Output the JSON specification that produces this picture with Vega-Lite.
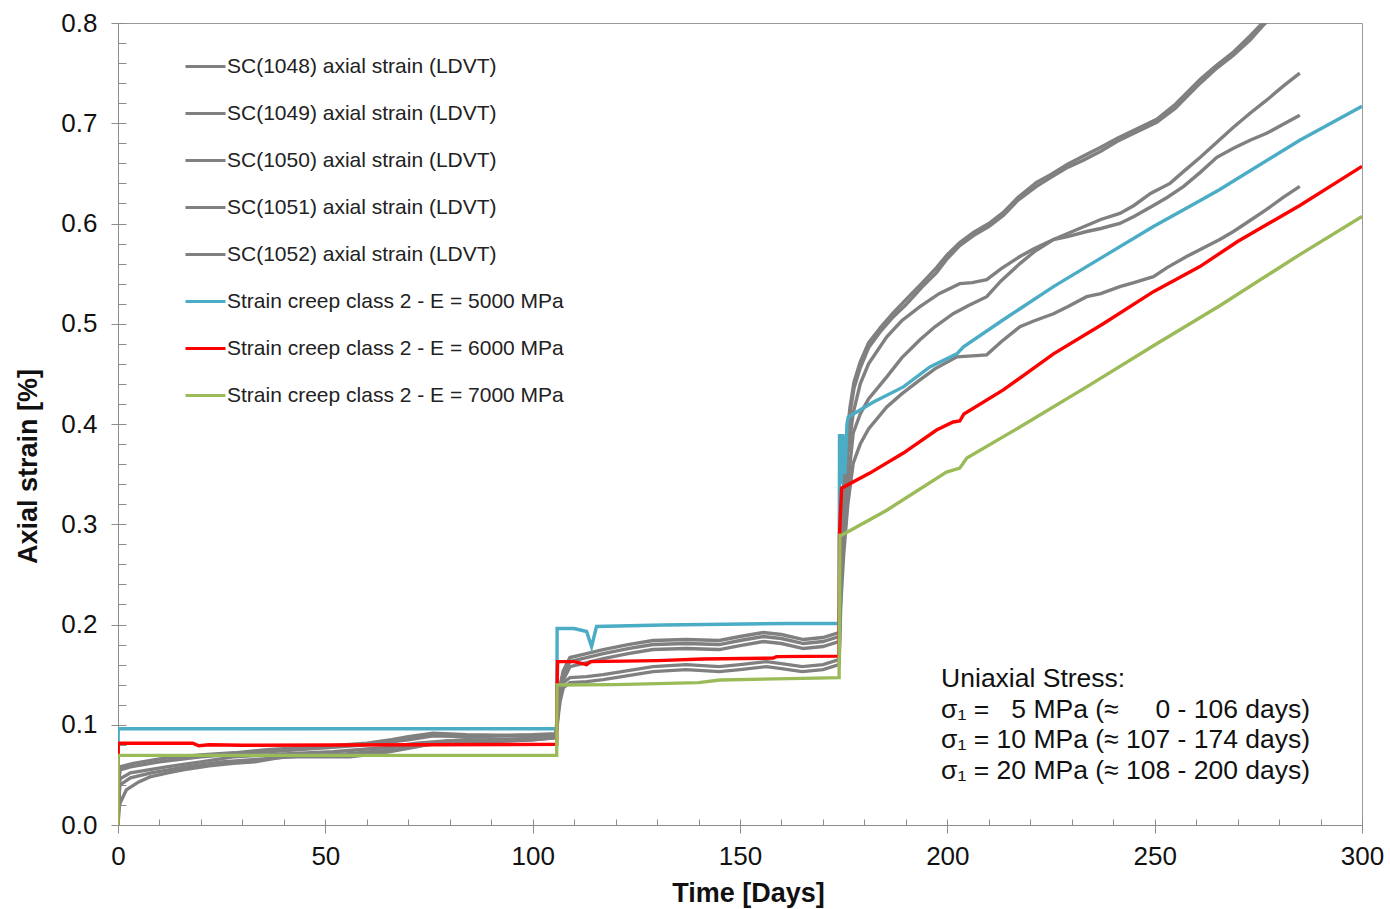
{
  "$schema": "https://vega.github.io/schema/vega-lite/v6.json",
  "width": 1244,
  "height": 802,
  "autosize": {"type": "none"},
  "padding": {"left": 118, "top": 23, "right": 28, "bottom": 84},
  "config": {
    "view": {"stroke": "#9a9a9a", "strokeWidth": 1},
    "font": "Liberation Sans",
    "axis": {"labelFont": "Liberation Sans", "titleFont": "Liberation Sans", "domainColor": "#8c8c8c", "tickColor": "#8c8c8c", "grid": false, "labelColor": "#111111", "titleColor": "#111111", "labelFlush": false, "labelOverlap": false}
  },
  "datasets": {
    "curves": [
      {"series":"SC(1048) axial strain (LDVT)","day":0,"strain":0},{"series":"SC(1048) axial strain (LDVT)","day":0.3,"strain":0.05},{"series":"SC(1048) axial strain (LDVT)","day":0.5,"strain":0.058},{"series":"SC(1048) axial strain (LDVT)","day":3.7,"strain":0.0615},{"series":"SC(1048) axial strain (LDVT)","day":10,"strain":0.066},{"series":"SC(1048) axial strain (LDVT)","day":19.8,"strain":0.07},{"series":"SC(1048) axial strain (LDVT)","day":28,"strain":0.072},{"series":"SC(1048) axial strain (LDVT)","day":35.9,"strain":0.075},{"series":"SC(1048) axial strain (LDVT)","day":48,"strain":0.078},{"series":"SC(1048) axial strain (LDVT)","day":60,"strain":0.0815},{"series":"SC(1048) axial strain (LDVT)","day":66,"strain":0.085},{"series":"SC(1048) axial strain (LDVT)","day":70,"strain":0.088},{"series":"SC(1048) axial strain (LDVT)","day":76,"strain":0.0915},{"series":"SC(1048) axial strain (LDVT)","day":84,"strain":0.09},{"series":"SC(1048) axial strain (LDVT)","day":92,"strain":0.0895},{"series":"SC(1048) axial strain (LDVT)","day":100,"strain":0.09},{"series":"SC(1048) axial strain (LDVT)","day":105.6,"strain":0.091},
      {"series":"SC(1048) axial strain (LDVT)","day":106.2,"strain":0.124},{"series":"SC(1048) axial strain (LDVT)","day":106.6,"strain":0.139},{"series":"SC(1048) axial strain (LDVT)","day":107.4,"strain":0.154},{"series":"SC(1048) axial strain (LDVT)","day":109,"strain":0.167},{"series":"SC(1048) axial strain (LDVT)","day":113,"strain":0.171},{"series":"SC(1048) axial strain (LDVT)","day":117,"strain":0.175},{"series":"SC(1048) axial strain (LDVT)","day":123,"strain":0.18},{"series":"SC(1048) axial strain (LDVT)","day":129,"strain":0.184},{"series":"SC(1048) axial strain (LDVT)","day":137,"strain":0.185},{"series":"SC(1048) axial strain (LDVT)","day":145,"strain":0.184},{"series":"SC(1048) axial strain (LDVT)","day":150,"strain":0.188},{"series":"SC(1048) axial strain (LDVT)","day":155.6,"strain":0.192},{"series":"SC(1048) axial strain (LDVT)","day":160,"strain":0.19},{"series":"SC(1048) axial strain (LDVT)","day":165.3,"strain":0.185},{"series":"SC(1048) axial strain (LDVT)","day":170,"strain":0.187},{"series":"SC(1048) axial strain (LDVT)","day":173.9,"strain":0.192},
      {"series":"SC(1048) axial strain (LDVT)","day":174.3,"strain":0.27},{"series":"SC(1048) axial strain (LDVT)","day":175,"strain":0.34},{"series":"SC(1048) axial strain (LDVT)","day":176,"strain":0.395},{"series":"SC(1048) axial strain (LDVT)","day":176.5,"strain":0.416},{"series":"SC(1048) axial strain (LDVT)","day":177.5,"strain":0.442},{"series":"SC(1048) axial strain (LDVT)","day":179,"strain":0.462},{"series":"SC(1048) axial strain (LDVT)","day":181,"strain":0.481},{"series":"SC(1048) axial strain (LDVT)","day":184,"strain":0.497},{"series":"SC(1048) axial strain (LDVT)","day":187,"strain":0.511},{"series":"SC(1048) axial strain (LDVT)","day":190,"strain":0.524},{"series":"SC(1048) axial strain (LDVT)","day":194,"strain":0.541},{"series":"SC(1048) axial strain (LDVT)","day":197.4,"strain":0.556},{"series":"SC(1048) axial strain (LDVT)","day":200,"strain":0.569},{"series":"SC(1048) axial strain (LDVT)","day":203,"strain":0.581},{"series":"SC(1048) axial strain (LDVT)","day":206.3,"strain":0.591},{"series":"SC(1048) axial strain (LDVT)","day":210,"strain":0.6},{"series":"SC(1048) axial strain (LDVT)","day":213.5,"strain":0.611},{"series":"SC(1048) axial strain (LDVT)","day":217,"strain":0.626},{"series":"SC(1048) axial strain (LDVT)","day":221.5,"strain":0.641},{"series":"SC(1048) axial strain (LDVT)","day":225,"strain":0.649},{"series":"SC(1048) axial strain (LDVT)","day":229,"strain":0.659},{"series":"SC(1048) axial strain (LDVT)","day":232.7,"strain":0.667},{"series":"SC(1048) axial strain (LDVT)","day":237,"strain":0.676},{"series":"SC(1048) axial strain (LDVT)","day":241,"strain":0.685},{"series":"SC(1048) axial strain (LDVT)","day":245,"strain":0.693},{"series":"SC(1048) axial strain (LDVT)","day":250.5,"strain":0.704},{"series":"SC(1048) axial strain (LDVT)","day":255,"strain":0.719},{"series":"SC(1048) axial strain (LDVT)","day":261,"strain":0.744},{"series":"SC(1048) axial strain (LDVT)","day":265,"strain":0.758},{"series":"SC(1048) axial strain (LDVT)","day":269,"strain":0.771},{"series":"SC(1048) axial strain (LDVT)","day":273,"strain":0.787},{"series":"SC(1048) axial strain (LDVT)","day":276,"strain":0.8},{"series":"SC(1048) axial strain (LDVT)","day":280,"strain":0.816},{"series":"SC(1048) axial strain (LDVT)","day":285,"strain":0.836},

      {"series":"SC(1049) axial strain (LDVT)","day":0,"strain":0},{"series":"SC(1049) axial strain (LDVT)","day":0.3,"strain":0.048},{"series":"SC(1049) axial strain (LDVT)","day":0.5,"strain":0.055},{"series":"SC(1049) axial strain (LDVT)","day":3,"strain":0.058},{"series":"SC(1049) axial strain (LDVT)","day":10,"strain":0.063},{"series":"SC(1049) axial strain (LDVT)","day":20,"strain":0.068},{"series":"SC(1049) axial strain (LDVT)","day":36,"strain":0.073},{"series":"SC(1049) axial strain (LDVT)","day":50,"strain":0.077},{"series":"SC(1049) axial strain (LDVT)","day":60,"strain":0.08},{"series":"SC(1049) axial strain (LDVT)","day":70,"strain":0.085},{"series":"SC(1049) axial strain (LDVT)","day":76,"strain":0.089},{"series":"SC(1049) axial strain (LDVT)","day":85,"strain":0.088},{"series":"SC(1049) axial strain (LDVT)","day":95,"strain":0.089},{"series":"SC(1049) axial strain (LDVT)","day":105.6,"strain":0.09},
      {"series":"SC(1049) axial strain (LDVT)","day":106.2,"strain":0.12},{"series":"SC(1049) axial strain (LDVT)","day":106.6,"strain":0.135},{"series":"SC(1049) axial strain (LDVT)","day":107.4,"strain":0.15},{"series":"SC(1049) axial strain (LDVT)","day":109,"strain":0.163},{"series":"SC(1049) axial strain (LDVT)","day":113,"strain":0.167},{"series":"SC(1049) axial strain (LDVT)","day":117,"strain":0.171},{"series":"SC(1049) axial strain (LDVT)","day":123,"strain":0.176},{"series":"SC(1049) axial strain (LDVT)","day":129,"strain":0.18},{"series":"SC(1049) axial strain (LDVT)","day":137,"strain":0.181},{"series":"SC(1049) axial strain (LDVT)","day":145,"strain":0.18},{"series":"SC(1049) axial strain (LDVT)","day":150,"strain":0.184},{"series":"SC(1049) axial strain (LDVT)","day":155.6,"strain":0.188},{"series":"SC(1049) axial strain (LDVT)","day":160,"strain":0.186},{"series":"SC(1049) axial strain (LDVT)","day":165.3,"strain":0.181},{"series":"SC(1049) axial strain (LDVT)","day":170,"strain":0.183},{"series":"SC(1049) axial strain (LDVT)","day":173.9,"strain":0.188},
      {"series":"SC(1049) axial strain (LDVT)","day":174.3,"strain":0.26},{"series":"SC(1049) axial strain (LDVT)","day":175,"strain":0.33},{"series":"SC(1049) axial strain (LDVT)","day":176,"strain":0.385},{"series":"SC(1049) axial strain (LDVT)","day":176.5,"strain":0.41},{"series":"SC(1049) axial strain (LDVT)","day":177.5,"strain":0.436},{"series":"SC(1049) axial strain (LDVT)","day":179,"strain":0.456},{"series":"SC(1049) axial strain (LDVT)","day":181,"strain":0.476},{"series":"SC(1049) axial strain (LDVT)","day":184,"strain":0.493},{"series":"SC(1049) axial strain (LDVT)","day":187,"strain":0.507},{"series":"SC(1049) axial strain (LDVT)","day":190,"strain":0.519},{"series":"SC(1049) axial strain (LDVT)","day":194,"strain":0.537},{"series":"SC(1049) axial strain (LDVT)","day":197.4,"strain":0.551},{"series":"SC(1049) axial strain (LDVT)","day":200,"strain":0.565},{"series":"SC(1049) axial strain (LDVT)","day":203,"strain":0.578},{"series":"SC(1049) axial strain (LDVT)","day":206.3,"strain":0.588},{"series":"SC(1049) axial strain (LDVT)","day":210,"strain":0.597},{"series":"SC(1049) axial strain (LDVT)","day":213.5,"strain":0.608},{"series":"SC(1049) axial strain (LDVT)","day":217,"strain":0.623},{"series":"SC(1049) axial strain (LDVT)","day":221.5,"strain":0.637},{"series":"SC(1049) axial strain (LDVT)","day":225,"strain":0.646},{"series":"SC(1049) axial strain (LDVT)","day":229,"strain":0.656},{"series":"SC(1049) axial strain (LDVT)","day":232.7,"strain":0.663},{"series":"SC(1049) axial strain (LDVT)","day":237,"strain":0.672},{"series":"SC(1049) axial strain (LDVT)","day":241,"strain":0.682},{"series":"SC(1049) axial strain (LDVT)","day":245,"strain":0.69},{"series":"SC(1049) axial strain (LDVT)","day":250.5,"strain":0.701},{"series":"SC(1049) axial strain (LDVT)","day":255,"strain":0.715},{"series":"SC(1049) axial strain (LDVT)","day":261,"strain":0.74},{"series":"SC(1049) axial strain (LDVT)","day":265,"strain":0.755},{"series":"SC(1049) axial strain (LDVT)","day":269,"strain":0.768},{"series":"SC(1049) axial strain (LDVT)","day":273,"strain":0.783},{"series":"SC(1049) axial strain (LDVT)","day":276,"strain":0.797},{"series":"SC(1049) axial strain (LDVT)","day":280,"strain":0.813},{"series":"SC(1049) axial strain (LDVT)","day":285,"strain":0.832},

      {"series":"SC(1050) axial strain (LDVT)","day":0,"strain":0},{"series":"SC(1050) axial strain (LDVT)","day":0.3,"strain":0.04},{"series":"SC(1050) axial strain (LDVT)","day":0.5,"strain":0.046},{"series":"SC(1050) axial strain (LDVT)","day":3,"strain":0.052},{"series":"SC(1050) axial strain (LDVT)","day":11.7,"strain":0.058},{"series":"SC(1050) axial strain (LDVT)","day":20,"strain":0.063},{"series":"SC(1050) axial strain (LDVT)","day":27.8,"strain":0.068},{"series":"SC(1050) axial strain (LDVT)","day":40,"strain":0.071},{"series":"SC(1050) axial strain (LDVT)","day":51.9,"strain":0.073},{"series":"SC(1050) axial strain (LDVT)","day":64,"strain":0.077},{"series":"SC(1050) axial strain (LDVT)","day":72,"strain":0.0815},{"series":"SC(1050) axial strain (LDVT)","day":80,"strain":0.084},{"series":"SC(1050) axial strain (LDVT)","day":90,"strain":0.085},{"series":"SC(1050) axial strain (LDVT)","day":100.2,"strain":0.0865},{"series":"SC(1050) axial strain (LDVT)","day":105.6,"strain":0.088},
      {"series":"SC(1050) axial strain (LDVT)","day":106.2,"strain":0.115},{"series":"SC(1050) axial strain (LDVT)","day":106.6,"strain":0.13},{"series":"SC(1050) axial strain (LDVT)","day":107.4,"strain":0.145},{"series":"SC(1050) axial strain (LDVT)","day":109,"strain":0.158},{"series":"SC(1050) axial strain (LDVT)","day":113,"strain":0.162},{"series":"SC(1050) axial strain (LDVT)","day":117,"strain":0.166},{"series":"SC(1050) axial strain (LDVT)","day":123,"strain":0.171},{"series":"SC(1050) axial strain (LDVT)","day":129,"strain":0.175},{"series":"SC(1050) axial strain (LDVT)","day":137,"strain":0.176},{"series":"SC(1050) axial strain (LDVT)","day":145,"strain":0.175},{"series":"SC(1050) axial strain (LDVT)","day":150,"strain":0.179},{"series":"SC(1050) axial strain (LDVT)","day":155.6,"strain":0.183},{"series":"SC(1050) axial strain (LDVT)","day":160,"strain":0.181},{"series":"SC(1050) axial strain (LDVT)","day":165.3,"strain":0.176},{"series":"SC(1050) axial strain (LDVT)","day":170,"strain":0.178},{"series":"SC(1050) axial strain (LDVT)","day":173.9,"strain":0.183},
      {"series":"SC(1050) axial strain (LDVT)","day":174.3,"strain":0.25},{"series":"SC(1050) axial strain (LDVT)","day":175,"strain":0.31},{"series":"SC(1050) axial strain (LDVT)","day":176,"strain":0.37},{"series":"SC(1050) axial strain (LDVT)","day":177.3,"strain":0.411},{"series":"SC(1050) axial strain (LDVT)","day":179,"strain":0.44},{"series":"SC(1050) axial strain (LDVT)","day":181,"strain":0.46},{"series":"SC(1050) axial strain (LDVT)","day":185.4,"strain":0.487},{"series":"SC(1050) axial strain (LDVT)","day":189,"strain":0.503},{"series":"SC(1050) axial strain (LDVT)","day":193.4,"strain":0.517},{"series":"SC(1050) axial strain (LDVT)","day":198,"strain":0.53},{"series":"SC(1050) axial strain (LDVT)","day":203,"strain":0.54},{"series":"SC(1050) axial strain (LDVT)","day":206,"strain":0.541},{"series":"SC(1050) axial strain (LDVT)","day":209.5,"strain":0.544},{"series":"SC(1050) axial strain (LDVT)","day":213,"strain":0.555},{"series":"SC(1050) axial strain (LDVT)","day":217.5,"strain":0.567},{"series":"SC(1050) axial strain (LDVT)","day":221,"strain":0.575},{"series":"SC(1050) axial strain (LDVT)","day":225.6,"strain":0.584},{"series":"SC(1050) axial strain (LDVT)","day":229,"strain":0.59},{"series":"SC(1050) axial strain (LDVT)","day":233.6,"strain":0.598},{"series":"SC(1050) axial strain (LDVT)","day":237,"strain":0.604},{"series":"SC(1050) axial strain (LDVT)","day":241.6,"strain":0.61},{"series":"SC(1050) axial strain (LDVT)","day":245,"strain":0.618},{"series":"SC(1050) axial strain (LDVT)","day":249,"strain":0.63},{"series":"SC(1050) axial strain (LDVT)","day":253.7,"strain":0.64},{"series":"SC(1050) axial strain (LDVT)","day":257,"strain":0.652},{"series":"SC(1050) axial strain (LDVT)","day":261,"strain":0.666},{"series":"SC(1050) axial strain (LDVT)","day":265,"strain":0.681},{"series":"SC(1050) axial strain (LDVT)","day":269,"strain":0.696},{"series":"SC(1050) axial strain (LDVT)","day":273,"strain":0.71},{"series":"SC(1050) axial strain (LDVT)","day":277,"strain":0.723},{"series":"SC(1050) axial strain (LDVT)","day":281,"strain":0.737},{"series":"SC(1050) axial strain (LDVT)","day":285,"strain":0.75},

      {"series":"SC(1051) axial strain (LDVT)","day":0,"strain":0},{"series":"SC(1051) axial strain (LDVT)","day":0.3,"strain":0.032},{"series":"SC(1051) axial strain (LDVT)","day":0.5,"strain":0.04},{"series":"SC(1051) axial strain (LDVT)","day":3,"strain":0.047},{"series":"SC(1051) axial strain (LDVT)","day":8,"strain":0.052},{"series":"SC(1051) axial strain (LDVT)","day":15,"strain":0.057},{"series":"SC(1051) axial strain (LDVT)","day":25,"strain":0.063},{"series":"SC(1051) axial strain (LDVT)","day":35,"strain":0.066},{"series":"SC(1051) axial strain (LDVT)","day":45,"strain":0.069},{"series":"SC(1051) axial strain (LDVT)","day":55,"strain":0.071},{"series":"SC(1051) axial strain (LDVT)","day":64,"strain":0.074},{"series":"SC(1051) axial strain (LDVT)","day":72,"strain":0.079},{"series":"SC(1051) axial strain (LDVT)","day":80,"strain":0.082},{"series":"SC(1051) axial strain (LDVT)","day":90,"strain":0.083},{"series":"SC(1051) axial strain (LDVT)","day":100,"strain":0.085},{"series":"SC(1051) axial strain (LDVT)","day":105.6,"strain":0.087},
      {"series":"SC(1051) axial strain (LDVT)","day":106.2,"strain":0.117},{"series":"SC(1051) axial strain (LDVT)","day":106.6,"strain":0.13},{"series":"SC(1051) axial strain (LDVT)","day":107.4,"strain":0.142},{"series":"SC(1051) axial strain (LDVT)","day":109,"strain":0.147},{"series":"SC(1051) axial strain (LDVT)","day":113,"strain":0.148},{"series":"SC(1051) axial strain (LDVT)","day":117,"strain":0.15},{"series":"SC(1051) axial strain (LDVT)","day":123,"strain":0.154},{"series":"SC(1051) axial strain (LDVT)","day":129,"strain":0.158},{"series":"SC(1051) axial strain (LDVT)","day":137,"strain":0.16},{"series":"SC(1051) axial strain (LDVT)","day":145,"strain":0.158},{"series":"SC(1051) axial strain (LDVT)","day":150,"strain":0.16},{"series":"SC(1051) axial strain (LDVT)","day":156.4,"strain":0.163},{"series":"SC(1051) axial strain (LDVT)","day":160,"strain":0.161},{"series":"SC(1051) axial strain (LDVT)","day":165,"strain":0.158},{"series":"SC(1051) axial strain (LDVT)","day":170,"strain":0.16},{"series":"SC(1051) axial strain (LDVT)","day":173.9,"strain":0.165},
      {"series":"SC(1051) axial strain (LDVT)","day":174.3,"strain":0.23},{"series":"SC(1051) axial strain (LDVT)","day":175,"strain":0.29},{"series":"SC(1051) axial strain (LDVT)","day":176,"strain":0.34},{"series":"SC(1051) axial strain (LDVT)","day":177.3,"strain":0.391},{"series":"SC(1051) axial strain (LDVT)","day":179,"strain":0.41},{"series":"SC(1051) axial strain (LDVT)","day":181,"strain":0.425},{"series":"SC(1051) axial strain (LDVT)","day":185.4,"strain":0.447},{"series":"SC(1051) axial strain (LDVT)","day":189,"strain":0.466},{"series":"SC(1051) axial strain (LDVT)","day":193.4,"strain":0.484},{"series":"SC(1051) axial strain (LDVT)","day":197,"strain":0.497},{"series":"SC(1051) axial strain (LDVT)","day":201.4,"strain":0.51},{"series":"SC(1051) axial strain (LDVT)","day":205,"strain":0.518},{"series":"SC(1051) axial strain (LDVT)","day":209.5,"strain":0.527},{"series":"SC(1051) axial strain (LDVT)","day":213,"strain":0.543},{"series":"SC(1051) axial strain (LDVT)","day":217.5,"strain":0.56},{"series":"SC(1051) axial strain (LDVT)","day":221,"strain":0.572},{"series":"SC(1051) axial strain (LDVT)","day":225.6,"strain":0.584},{"series":"SC(1051) axial strain (LDVT)","day":229,"strain":0.587},{"series":"SC(1051) axial strain (LDVT)","day":233.6,"strain":0.592},{"series":"SC(1051) axial strain (LDVT)","day":237,"strain":0.595},{"series":"SC(1051) axial strain (LDVT)","day":241.6,"strain":0.6},{"series":"SC(1051) axial strain (LDVT)","day":245,"strain":0.607},{"series":"SC(1051) axial strain (LDVT)","day":249.7,"strain":0.618},{"series":"SC(1051) axial strain (LDVT)","day":253,"strain":0.626},{"series":"SC(1051) axial strain (LDVT)","day":257,"strain":0.637},{"series":"SC(1051) axial strain (LDVT)","day":261,"strain":0.651},{"series":"SC(1051) axial strain (LDVT)","day":265,"strain":0.666},{"series":"SC(1051) axial strain (LDVT)","day":269,"strain":0.675},{"series":"SC(1051) axial strain (LDVT)","day":273,"strain":0.683},{"series":"SC(1051) axial strain (LDVT)","day":277,"strain":0.69},{"series":"SC(1051) axial strain (LDVT)","day":281,"strain":0.699},{"series":"SC(1051) axial strain (LDVT)","day":285,"strain":0.708},

      {"series":"SC(1052) axial strain (LDVT)","day":0,"strain":0},{"series":"SC(1052) axial strain (LDVT)","day":0.3,"strain":0.018},{"series":"SC(1052) axial strain (LDVT)","day":0.5,"strain":0.022},{"series":"SC(1052) axial strain (LDVT)","day":2,"strain":0.035},{"series":"SC(1052) axial strain (LDVT)","day":5,"strain":0.043},{"series":"SC(1052) axial strain (LDVT)","day":7.7,"strain":0.048},{"series":"SC(1052) axial strain (LDVT)","day":12,"strain":0.052},{"series":"SC(1052) axial strain (LDVT)","day":15.7,"strain":0.055},{"series":"SC(1052) axial strain (LDVT)","day":22,"strain":0.059},{"series":"SC(1052) axial strain (LDVT)","day":27.8,"strain":0.0615},{"series":"SC(1052) axial strain (LDVT)","day":33,"strain":0.063},{"series":"SC(1052) axial strain (LDVT)","day":40,"strain":0.068},{"series":"SC(1052) axial strain (LDVT)","day":48,"strain":0.068},{"series":"SC(1052) axial strain (LDVT)","day":56,"strain":0.068},{"series":"SC(1052) axial strain (LDVT)","day":64,"strain":0.072},{"series":"SC(1052) axial strain (LDVT)","day":72,"strain":0.078},{"series":"SC(1052) axial strain (LDVT)","day":78,"strain":0.083},{"series":"SC(1052) axial strain (LDVT)","day":84,"strain":0.085},{"series":"SC(1052) axial strain (LDVT)","day":92,"strain":0.084},{"series":"SC(1052) axial strain (LDVT)","day":100,"strain":0.085},{"series":"SC(1052) axial strain (LDVT)","day":105.6,"strain":0.087},
      {"series":"SC(1052) axial strain (LDVT)","day":106.2,"strain":0.11},{"series":"SC(1052) axial strain (LDVT)","day":106.6,"strain":0.123},{"series":"SC(1052) axial strain (LDVT)","day":107.4,"strain":0.137},{"series":"SC(1052) axial strain (LDVT)","day":109,"strain":0.142},{"series":"SC(1052) axial strain (LDVT)","day":113,"strain":0.143},{"series":"SC(1052) axial strain (LDVT)","day":117,"strain":0.145},{"series":"SC(1052) axial strain (LDVT)","day":123,"strain":0.149},{"series":"SC(1052) axial strain (LDVT)","day":129,"strain":0.153},{"series":"SC(1052) axial strain (LDVT)","day":137,"strain":0.155},{"series":"SC(1052) axial strain (LDVT)","day":145,"strain":0.153},{"series":"SC(1052) axial strain (LDVT)","day":150,"strain":0.155},{"series":"SC(1052) axial strain (LDVT)","day":156.4,"strain":0.158},{"series":"SC(1052) axial strain (LDVT)","day":160,"strain":0.156},{"series":"SC(1052) axial strain (LDVT)","day":165,"strain":0.153},{"series":"SC(1052) axial strain (LDVT)","day":170,"strain":0.155},{"series":"SC(1052) axial strain (LDVT)","day":173.9,"strain":0.16},
      {"series":"SC(1052) axial strain (LDVT)","day":174.3,"strain":0.22},{"series":"SC(1052) axial strain (LDVT)","day":175,"strain":0.27},{"series":"SC(1052) axial strain (LDVT)","day":176,"strain":0.32},{"series":"SC(1052) axial strain (LDVT)","day":177.3,"strain":0.361},{"series":"SC(1052) axial strain (LDVT)","day":179,"strain":0.38},{"series":"SC(1052) axial strain (LDVT)","day":181,"strain":0.395},{"series":"SC(1052) axial strain (LDVT)","day":185.4,"strain":0.417},{"series":"SC(1052) axial strain (LDVT)","day":189,"strain":0.43},{"series":"SC(1052) axial strain (LDVT)","day":193.4,"strain":0.444},{"series":"SC(1052) axial strain (LDVT)","day":197,"strain":0.455},{"series":"SC(1052) axial strain (LDVT)","day":202.3,"strain":0.467},{"series":"SC(1052) axial strain (LDVT)","day":206,"strain":0.468},{"series":"SC(1052) axial strain (LDVT)","day":209.5,"strain":0.469},{"series":"SC(1052) axial strain (LDVT)","day":213,"strain":0.482},{"series":"SC(1052) axial strain (LDVT)","day":217.5,"strain":0.497},{"series":"SC(1052) axial strain (LDVT)","day":221,"strain":0.503},{"series":"SC(1052) axial strain (LDVT)","day":225.6,"strain":0.51},{"series":"SC(1052) axial strain (LDVT)","day":229,"strain":0.517},{"series":"SC(1052) axial strain (LDVT)","day":233.6,"strain":0.527},{"series":"SC(1052) axial strain (LDVT)","day":237,"strain":0.53},{"series":"SC(1052) axial strain (LDVT)","day":241.6,"strain":0.537},{"series":"SC(1052) axial strain (LDVT)","day":245,"strain":0.541},{"series":"SC(1052) axial strain (LDVT)","day":249.7,"strain":0.547},{"series":"SC(1052) axial strain (LDVT)","day":253,"strain":0.556},{"series":"SC(1052) axial strain (LDVT)","day":257.7,"strain":0.567},{"series":"SC(1052) axial strain (LDVT)","day":261,"strain":0.574},{"series":"SC(1052) axial strain (LDVT)","day":265.7,"strain":0.584},{"series":"SC(1052) axial strain (LDVT)","day":269,"strain":0.592},{"series":"SC(1052) axial strain (LDVT)","day":273,"strain":0.603},{"series":"SC(1052) axial strain (LDVT)","day":277,"strain":0.614},{"series":"SC(1052) axial strain (LDVT)","day":281,"strain":0.626},{"series":"SC(1052) axial strain (LDVT)","day":285,"strain":0.637},

      {"series":"Strain creep class 2 - E = 5000 MPa","day":0,"strain":0},{"series":"Strain creep class 2 - E = 5000 MPa","day":0.05,"strain":0.096},{"series":"Strain creep class 2 - E = 5000 MPa","day":105.8,"strain":0.096},{"series":"Strain creep class 2 - E = 5000 MPa","day":105.9,"strain":0.196},{"series":"Strain creep class 2 - E = 5000 MPa","day":110,"strain":0.196},{"series":"Strain creep class 2 - E = 5000 MPa","day":113,"strain":0.193},{"series":"Strain creep class 2 - E = 5000 MPa","day":114.2,"strain":0.178},{"series":"Strain creep class 2 - E = 5000 MPa","day":115.4,"strain":0.198},{"series":"Strain creep class 2 - E = 5000 MPa","day":131.5,"strain":0.1995},{"series":"Strain creep class 2 - E = 5000 MPa","day":161.3,"strain":0.201},{"series":"Strain creep class 2 - E = 5000 MPa","day":173.9,"strain":0.201},{"series":"Strain creep class 2 - E = 5000 MPa","day":174,"strain":0.39},{"series":"Strain creep class 2 - E = 5000 MPa","day":174.4,"strain":0.34},{"series":"Strain creep class 2 - E = 5000 MPa","day":174.8,"strain":0.39},{"series":"Strain creep class 2 - E = 5000 MPa","day":175.3,"strain":0.35},{"series":"Strain creep class 2 - E = 5000 MPa","day":175.8,"strain":0.4},{"series":"Strain creep class 2 - E = 5000 MPa","day":176.1,"strain":0.407},{"series":"Strain creep class 2 - E = 5000 MPa","day":182.2,"strain":0.422},{"series":"Strain creep class 2 - E = 5000 MPa","day":189.4,"strain":0.437},{"series":"Strain creep class 2 - E = 5000 MPa","day":195.8,"strain":0.457},{"series":"Strain creep class 2 - E = 5000 MPa","day":202.3,"strain":0.47},{"series":"Strain creep class 2 - E = 5000 MPa","day":203.9,"strain":0.477},{"series":"Strain creep class 2 - E = 5000 MPa","day":213.5,"strain":0.504},{"series":"Strain creep class 2 - E = 5000 MPa","day":225.6,"strain":0.537},{"series":"Strain creep class 2 - E = 5000 MPa","day":237.6,"strain":0.567},{"series":"Strain creep class 2 - E = 5000 MPa","day":249.7,"strain":0.597},{"series":"Strain creep class 2 - E = 5000 MPa","day":261,"strain":0.623},{"series":"Strain creep class 2 - E = 5000 MPa","day":265.7,"strain":0.634},{"series":"Strain creep class 2 - E = 5000 MPa","day":285,"strain":0.683},{"series":"Strain creep class 2 - E = 5000 MPa","day":300,"strain":0.717},

      {"series":"Strain creep class 2 - E = 6000 MPa","day":0,"strain":0},{"series":"Strain creep class 2 - E = 6000 MPa","day":0.05,"strain":0.0815},{"series":"Strain creep class 2 - E = 6000 MPa","day":18,"strain":0.0815},{"series":"Strain creep class 2 - E = 6000 MPa","day":19.5,"strain":0.079},{"series":"Strain creep class 2 - E = 6000 MPa","day":22,"strain":0.08},{"series":"Strain creep class 2 - E = 6000 MPa","day":30,"strain":0.0795},{"series":"Strain creep class 2 - E = 6000 MPa","day":105.8,"strain":0.0805},{"series":"Strain creep class 2 - E = 6000 MPa","day":105.9,"strain":0.141},{"series":"Strain creep class 2 - E = 6000 MPa","day":106,"strain":0.163},{"series":"Strain creep class 2 - E = 6000 MPa","day":110,"strain":0.163},{"series":"Strain creep class 2 - E = 6000 MPa","day":113,"strain":0.16},{"series":"Strain creep class 2 - E = 6000 MPa","day":114,"strain":0.163},{"series":"Strain creep class 2 - E = 6000 MPa","day":130,"strain":0.164},{"series":"Strain creep class 2 - E = 6000 MPa","day":141,"strain":0.1656},{"series":"Strain creep class 2 - E = 6000 MPa","day":158,"strain":0.1665},{"series":"Strain creep class 2 - E = 6000 MPa","day":158.8,"strain":0.168},{"series":"Strain creep class 2 - E = 6000 MPa","day":173.9,"strain":0.1685},{"series":"Strain creep class 2 - E = 6000 MPa","day":174,"strain":0.29},{"series":"Strain creep class 2 - E = 6000 MPa","day":174.5,"strain":0.336},{"series":"Strain creep class 2 - E = 6000 MPa","day":181.3,"strain":0.351},{"series":"Strain creep class 2 - E = 6000 MPa","day":189.4,"strain":0.371},{"series":"Strain creep class 2 - E = 6000 MPa","day":197.4,"strain":0.394},{"series":"Strain creep class 2 - E = 6000 MPa","day":201.4,"strain":0.402},{"series":"Strain creep class 2 - E = 6000 MPa","day":203,"strain":0.403},{"series":"Strain creep class 2 - E = 6000 MPa","day":204,"strain":0.41},{"series":"Strain creep class 2 - E = 6000 MPa","day":213.5,"strain":0.434},{"series":"Strain creep class 2 - E = 6000 MPa","day":225.6,"strain":0.47},{"series":"Strain creep class 2 - E = 6000 MPa","day":237.6,"strain":0.5},{"series":"Strain creep class 2 - E = 6000 MPa","day":249.7,"strain":0.532},{"series":"Strain creep class 2 - E = 6000 MPa","day":260.9,"strain":0.557},{"series":"Strain creep class 2 - E = 6000 MPa","day":270,"strain":0.582},{"series":"Strain creep class 2 - E = 6000 MPa","day":285,"strain":0.618},{"series":"Strain creep class 2 - E = 6000 MPa","day":300,"strain":0.657},

      {"series":"Strain creep class 2 - E = 7000 MPa","day":0,"strain":0},{"series":"Strain creep class 2 - E = 7000 MPa","day":0.05,"strain":0.0695},{"series":"Strain creep class 2 - E = 7000 MPa","day":105.8,"strain":0.0695},{"series":"Strain creep class 2 - E = 7000 MPa","day":105.9,"strain":0.1397},{"series":"Strain creep class 2 - E = 7000 MPa","day":120,"strain":0.14},{"series":"Strain creep class 2 - E = 7000 MPa","day":135,"strain":0.1415},{"series":"Strain creep class 2 - E = 7000 MPa","day":140,"strain":0.142},{"series":"Strain creep class 2 - E = 7000 MPa","day":145.2,"strain":0.1446},{"series":"Strain creep class 2 - E = 7000 MPa","day":165,"strain":0.1463},{"series":"Strain creep class 2 - E = 7000 MPa","day":173.9,"strain":0.147},{"series":"Strain creep class 2 - E = 7000 MPa","day":174.1,"strain":0.289},{"series":"Strain creep class 2 - E = 7000 MPa","day":174.5,"strain":0.289},{"series":"Strain creep class 2 - E = 7000 MPa","day":185.4,"strain":0.314},{"series":"Strain creep class 2 - E = 7000 MPa","day":199.8,"strain":0.352},{"series":"Strain creep class 2 - E = 7000 MPa","day":203,"strain":0.356},{"series":"Strain creep class 2 - E = 7000 MPa","day":204.7,"strain":0.366},{"series":"Strain creep class 2 - E = 7000 MPa","day":217.5,"strain":0.397},{"series":"Strain creep class 2 - E = 7000 MPa","day":233.6,"strain":0.437},{"series":"Strain creep class 2 - E = 7000 MPa","day":249.7,"strain":0.478},{"series":"Strain creep class 2 - E = 7000 MPa","day":265.7,"strain":0.518},{"series":"Strain creep class 2 - E = 7000 MPa","day":285,"strain":0.569},{"series":"Strain creep class 2 - E = 7000 MPa","day":300,"strain":0.607}
    ]
  },
  "layer": [
    {
      "data": {"name": "curves"},
      "mark": {"type": "line", "strokeWidth": 3.4, "clip": true},
      "encoding": {
        "x": {
          "field": "day", "type": "quantitative",
          "scale": {"domain": [0, 300], "nice": false, "zero": false},
          "axis": {"values": [0, 50, 100, 150, 200, 250, 300], "tickSize": 8, "labelFontSize": 26, "labelPadding": 10, "labelFlush": false, "title": "Time [Days]", "titleFontSize": 27, "titleFontWeight": "bold", "titleX": 630, "titleY": 68, "titleBaseline": "middle", "titleAlign": "center"}
        },
        "y": {
          "field": "strain", "type": "quantitative",
          "scale": {"domain": [0, 0.8], "nice": false},
          "axis": {"values": [0, 0.1, 0.2, 0.3, 0.4, 0.5, 0.6, 0.7, 0.8], "format": ".1f", "tickSize": 7, "labelFontSize": 26, "labelPadding": 14, "labelFlush": false, "title": "Axial strain [%]", "titleFontSize": 27, "titleFontWeight": "bold", "titleX": -90, "titleY": 443, "titleAngle": -90, "titleBaseline": "middle", "titleAlign": "center"}
        },
        "color": {
          "field": "series", "type": "nominal",
          "scale": {
            "domain": ["SC(1048) axial strain (LDVT)", "SC(1049) axial strain (LDVT)", "SC(1050) axial strain (LDVT)", "SC(1051) axial strain (LDVT)", "SC(1052) axial strain (LDVT)", "Strain creep class 2 - E = 5000 MPa", "Strain creep class 2 - E = 6000 MPa", "Strain creep class 2 - E = 7000 MPa"],
            "range": ["#808080", "#808080", "#808080", "#808080", "#808080", "#4bacc6", "#ff0000", "#9bbb59"]
          },
          "legend": {"orient": "none", "legendX": 66, "legendY": 22, "title": null, "symbolType": "stroke", "symbolSize": 1600, "symbolStrokeWidth": 3, "labelFontSize": 21, "labelFont": "Liberation Sans", "labelColor": "#222222", "rowPadding": 15, "labelOffset": 0, "padding": 0, "labelLimit": 500}
        }
      }
    },
    {
      "data": {"values": [{}]},
      "mark": {"type": "text", "align": "left", "baseline": "middle", "fontSize": 26.5, "lineHeight": 30.5, "font": "Liberation Sans", "color": "#111111",
        "text": ["Uniaxial Stress:", "σ₁ = \u20075 MPa (≈ \u2007\u20070 - 106 days)", "σ₁ = 10 MPa (≈ 107 - 174 days)", "σ₁ = 20 MPa (≈ 108 - 200 days)"]},
      "encoding": {
        "x": {"datum": 198.5, "type": "quantitative", "axis": {"orient": "bottom", "values": [0,10,20,30,40,50,60,70,80,90,100,110,120,130,140,150,160,170,180,190,200,210,220,230,240,250,260,270,280,290,300], "tickSize": -6, "labels": false, "domain": false, "title": null, "grid": false}},
        "y": {"datum": 0.1456, "type": "quantitative", "axis": {"orient": "left", "values": [0,0.02,0.04,0.06,0.08,0.1,0.12,0.14,0.16,0.18,0.2,0.22,0.24,0.26,0.28,0.3,0.32,0.34,0.36,0.38,0.4,0.42,0.44,0.46,0.48,0.5,0.52,0.54,0.56,0.58,0.6,0.62,0.64,0.66,0.68,0.7,0.72,0.74,0.76,0.78,0.8], "tickSize": -8, "labels": false, "domain": false, "title": null, "grid": false}}
      }
    }
  ],
  "resolve": {"axis": {"x": "independent", "y": "independent"}}
}
